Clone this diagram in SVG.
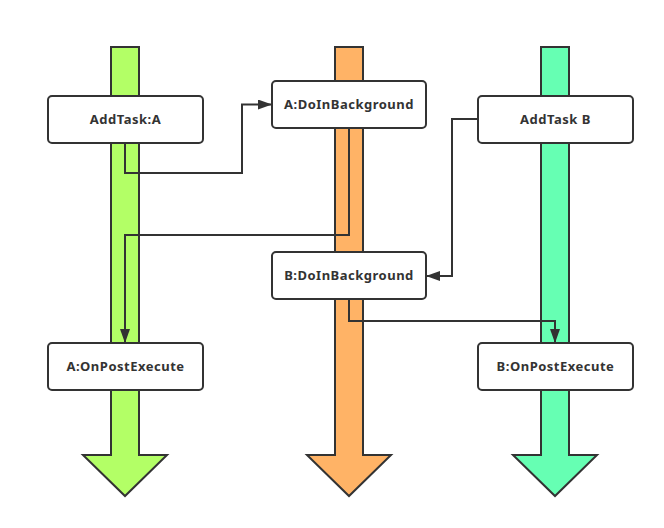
<svg xmlns="http://www.w3.org/2000/svg" width="664" height="528" viewBox="0 0 664 528">
<style>
.lane{stroke:#333;stroke-width:2;stroke-linejoin:miter}
.box{fill:#fff;stroke:#333;stroke-width:2}
.lbl{font-family:"Noto Sans","Open Sans","DejaVu Sans",sans-serif;font-weight:bold;font-size:13px;letter-spacing:0.5px;fill:#333;text-anchor:middle}
.conn{fill:none;stroke:#333;stroke-width:2;marker-end:url(#arr)}
</style>
<defs>
<marker id="arr" markerUnits="userSpaceOnUse" markerWidth="14" markerHeight="10" refX="13" refY="5" orient="auto">
<path d="M0,0 L14,5 L0,10 z" fill="#333"/>
</marker>
</defs>
<rect width="664" height="528" fill="#fff"/>
<g id="lanes">
<polygon class="lane" fill="#b3ff66" points="111,47 139,47 139,455 167,455 125,496 83,455 111,455"/>
<polygon class="lane" fill="#ffb366" points="335,47 363,47 363,455 391,455 349,496 307,455 335,455"/>
<polygon class="lane" fill="#66ffb3" points="541,47 569,47 569,455 597,455 555,496 513,455 541,455"/>
</g>
<g id="connectors">
<path class="conn" d="M125,143 V173 H242 V104.5 H271"/>
<path class="conn" d="M349,128 V235 H125 V342"/>
<path class="conn" d="M477,119 H452 V276 H427"/>
<path class="conn" d="M349,299 V321 H555 V342"/>
</g>
<g id="addTaskA">
<rect class="box" x="48" y="96" width="155" height="47" rx="4"/>
<text class="lbl" x="125.5" y="124">AddTask:A</text>
</g>
<g id="aDoInBackground">
<rect class="box" x="272" y="81" width="154" height="47" rx="4"/>
<text class="lbl" x="349" y="109">A:DoInBackground</text>
</g>
<g id="addTaskB">
<rect class="box" x="478" y="96" width="155" height="47" rx="4"/>
<text class="lbl" x="555.5" y="124">AddTask B</text>
</g>
<g id="bDoInBackground">
<rect class="box" x="272" y="252" width="154" height="47" rx="4"/>
<text class="lbl" x="349" y="280">B:DoInBackground</text>
</g>
<g id="aOnPostExecute">
<rect class="box" x="48" y="343" width="155" height="47" rx="4"/>
<text class="lbl" x="125.5" y="371">A:OnPostExecute</text>
</g>
<g id="bOnPostExecute">
<rect class="box" x="478" y="343" width="155" height="47" rx="4"/>
<text class="lbl" x="555.5" y="371">B:OnPostExecute</text>
</g>
</svg>
